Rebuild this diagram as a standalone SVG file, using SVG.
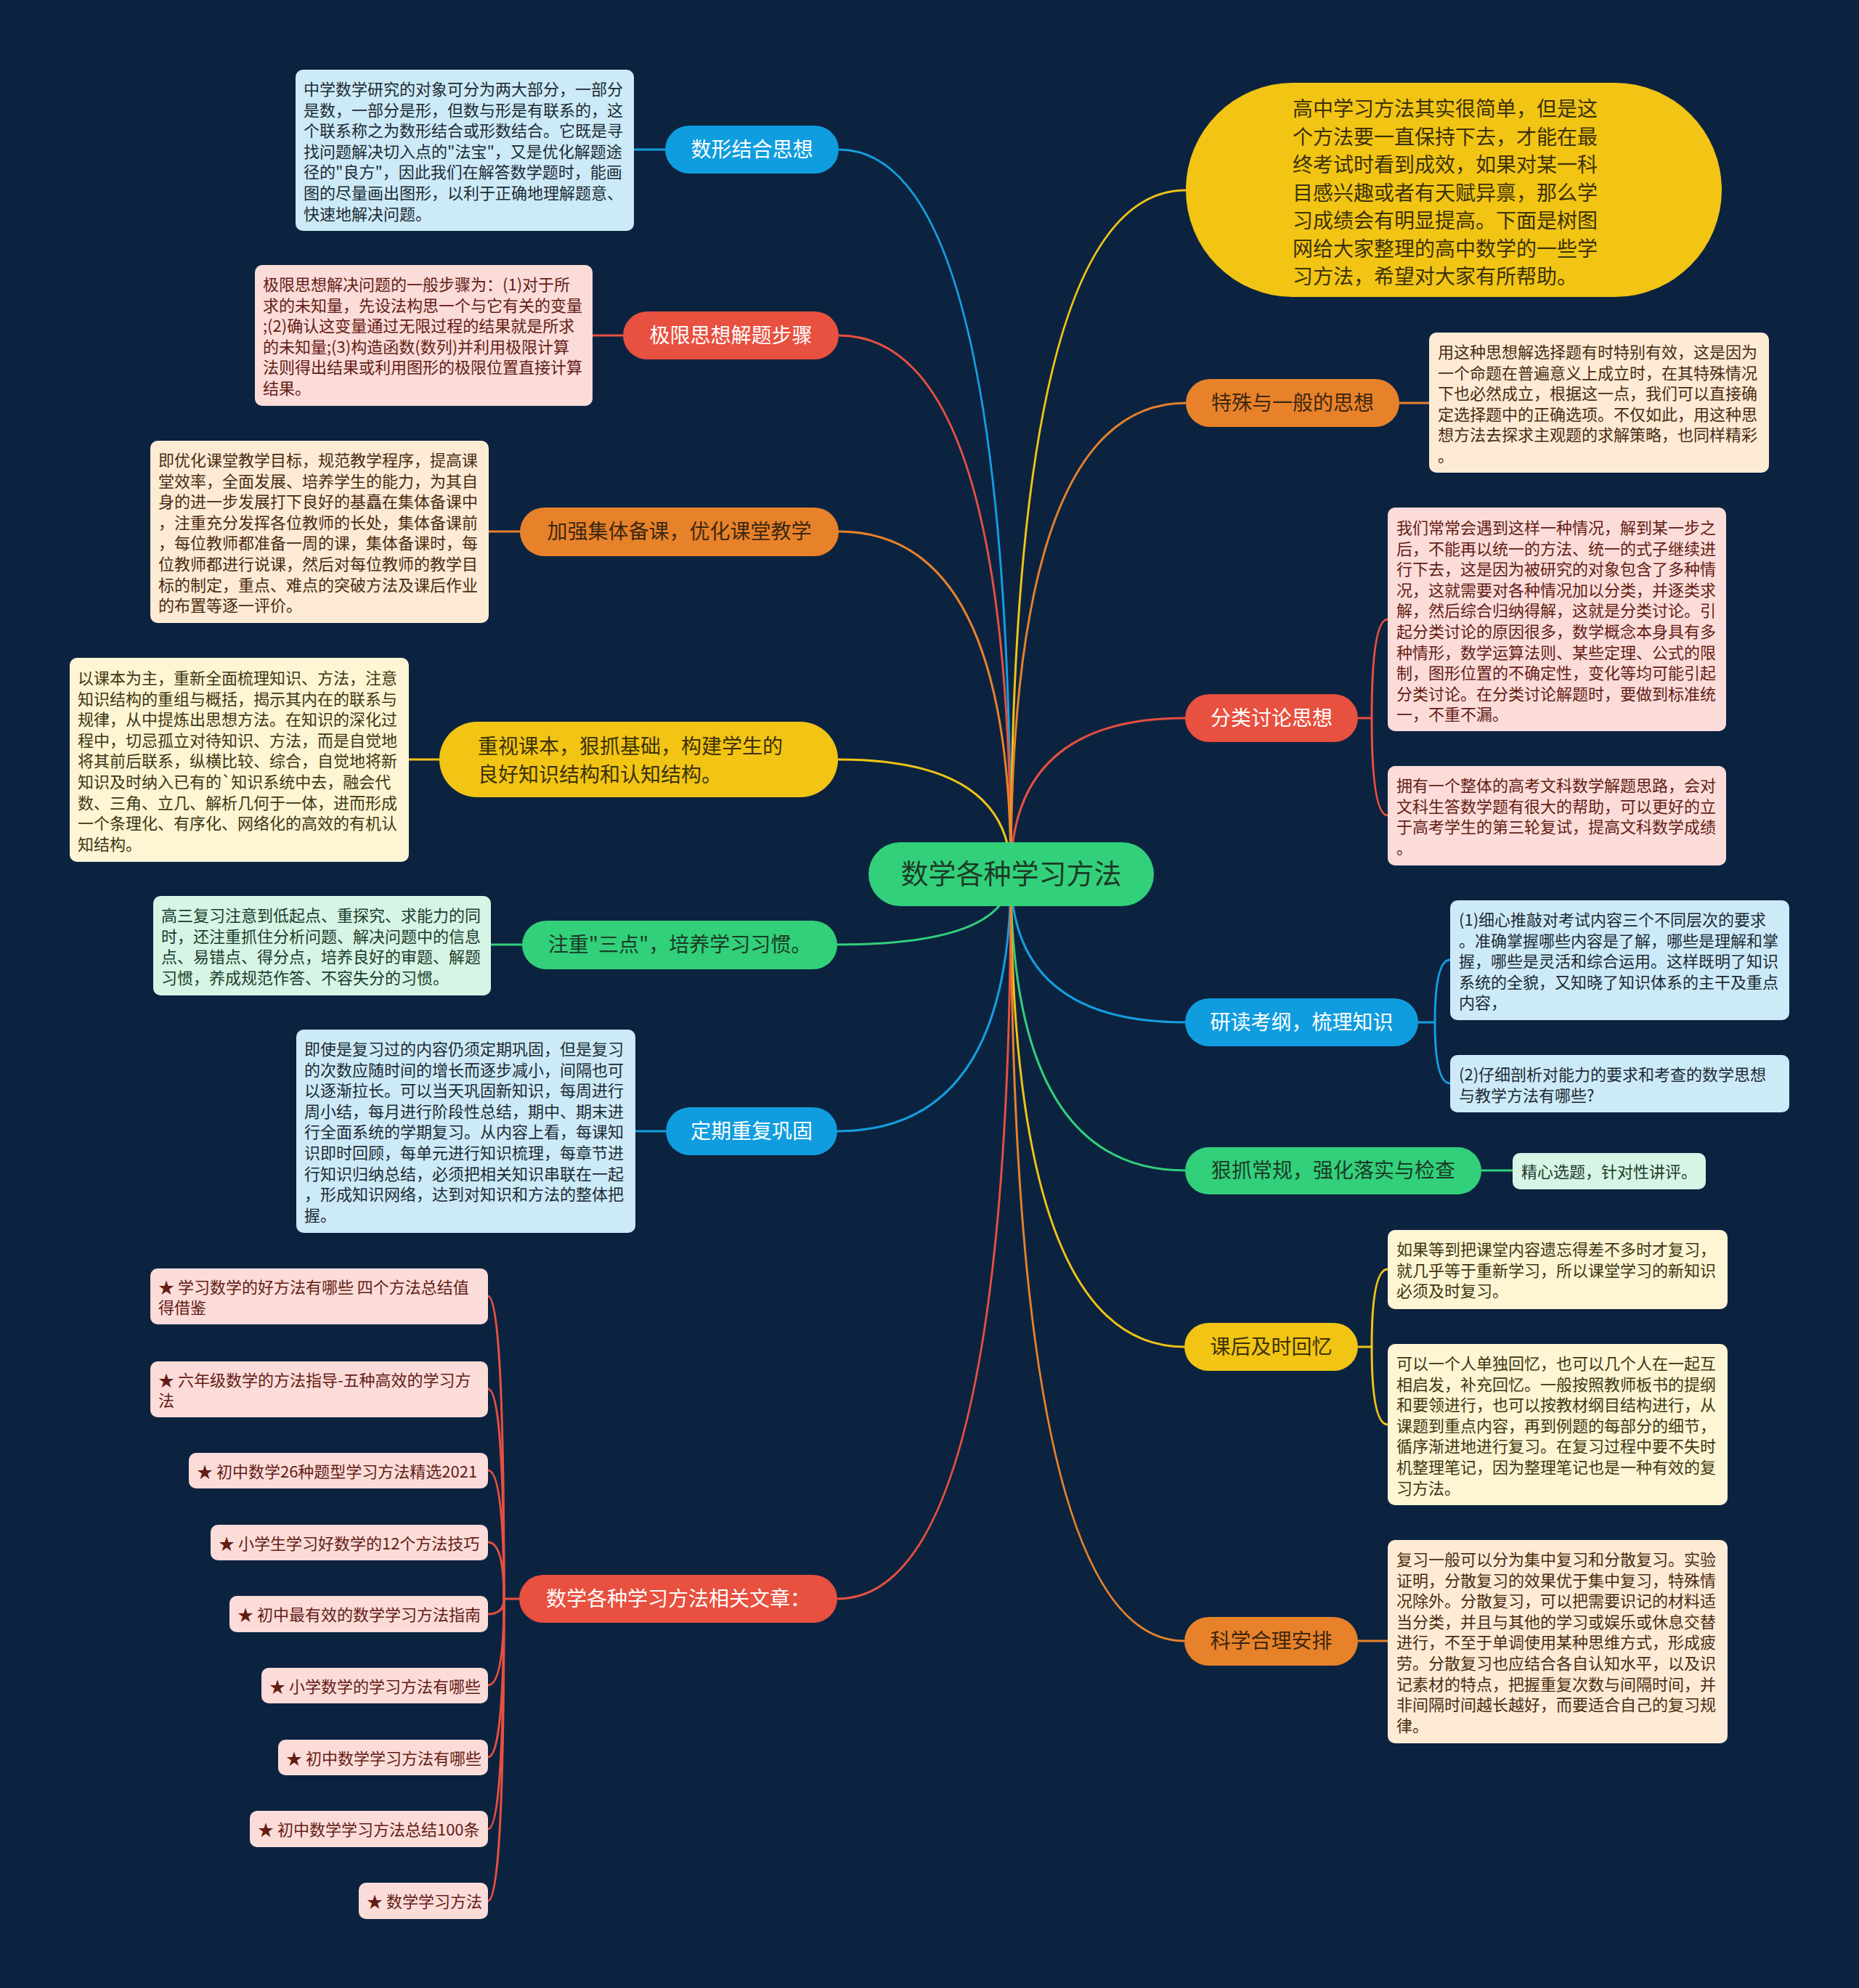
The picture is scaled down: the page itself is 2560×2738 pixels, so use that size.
<svg xmlns="http://www.w3.org/2000/svg" width="2560" height="2738" viewBox="0 0 2560 2738">
<defs>
<style>
text{font-family:"Noto Sans CJK SC","Noto Sans",sans-serif;}
.bg{fill:#0c2340;}
.e{fill:none;stroke-width:3;}
.eb{stroke:#139fe0;} .er{stroke:#e8503f;} .eo{stroke:#e8822a;} .ey{stroke:#f2c414;} .eg{stroke:#32d07a;}
.nb{fill:#109ddf;} .nr{fill:#e8503f;} .no{fill:#e8822a;} .ny{fill:#f2c414;} .ng{fill:#32d07a;}
.tw{fill:#ffffff;font-size:28px;text-anchor:middle;}
.to{fill:#3d2710;font-size:28px;text-anchor:middle;}
.ty{fill:#3b3208;font-size:28px;text-anchor:middle;}
.tys{fill:#3b3208;font-size:28px;text-anchor:start;}
.tg{fill:#1b3b27;font-size:28px;text-anchor:middle;}
.bb{fill:#cdeaf8;} .br{fill:#fbdcd9;} .bo{fill:#fdebd6;} .by{fill:#fdf5d4;} .bgr{fill:#d7f5e4;}
.xb{fill:#1c2a33;font-size:22px;} .xr{fill:#641c14;font-size:22px;} .xo{fill:#4a2b10;font-size:22px;} .xy{fill:#3e3611;font-size:22px;} .xg{fill:#1d3b2b;font-size:22px;}
</style>
</defs>
<rect class="bg" x="0" y="0" width="2560" height="2738"/>

<g id="connectors">
<path class="e eb" d="M1392,1204 Q1392,206 1155,206"/>
<path class="e er" d="M1392,1204 Q1392,462 1155,462"/>
<path class="e eo" d="M1392,1204 Q1392,732 1155,732"/>
<path class="e ey" d="M1392,1204 Q1392,1046 1154,1046"/>
<path class="e eg" d="M1392,1204 Q1392,1301 1153,1301"/>
<path class="e eb" d="M1392,1204 Q1392,1558 1153,1558"/>
<path class="e er" d="M1392,1204 Q1392,2202 1153,2202"/>
<path class="e ey" d="M1392,1204 Q1392,262 1633,262"/>
<path class="e eo" d="M1392,1204 Q1392,555 1633,555"/>
<path class="e er" d="M1392,1204 Q1392,989 1632,989"/>
<path class="e eb" d="M1392,1204 Q1392,1408 1632,1408"/>
<path class="e eg" d="M1392,1204 Q1392,1612 1632,1612"/>
<path class="e ey" d="M1392,1204 Q1392,1855 1631,1855"/>
<path class="e eo" d="M1392,1204 Q1392,2260 1631,2260"/>

<path class="e eb" d="M916,206 H873"/>
<path class="e er" d="M858,462 H816"/>
<path class="e eo" d="M716,732 H673"/>
<path class="e ey" d="M605,1046 H563"/>
<path class="e eg" d="M719,1301 H676"/>
<path class="e eb" d="M917,1558 H875"/>
<path class="e eo" d="M1927,555 H1968"/>
<path class="e eg" d="M2040,1612 H2083"/>
<path class="e eo" d="M1870,2260 H1911"/>

<path class="e er" d="M1870,989 H1889 Q1889,853 1911,853"/>
<path class="e er" d="M1889,989 Q1889,1123 1911,1123"/>
<path class="e eb" d="M1953,1408 H1976 Q1976,1322 1997,1322"/>
<path class="e eb" d="M1976,1408 Q1976,1492 1997,1492"/>
<path class="e ey" d="M1870,1855 H1889 Q1889,1748 1911,1748"/>
<path class="e ey" d="M1889,1855 Q1889,1962 1911,1962"/>

<path class="e er" d="M715,2202 H694 Q694,1785 672,1785"/>
<path class="e er" d="M694,2202 Q694,1913 672,1913"/>
<path class="e er" d="M694,2202 Q694,2025 672,2025"/>
<path class="e er" d="M694,2202 Q694,2124 672,2124"/>
<path class="e er" d="M694,2202 Q694,2223 672,2223"/>
<path class="e er" d="M694,2202 Q694,2321 672,2321"/>
<path class="e er" d="M694,2202 Q694,2420 672,2420"/>
<path class="e er" d="M694,2202 Q694,2519 672,2519"/>
<path class="e er" d="M694,2202 Q694,2618 672,2618"/>
</g>

<g id="n-center">
<rect x="1196" y="1160" width="393" height="88" rx="44" fill="#32d07a"/>
<text x="1392.5" y="1217" font-size="38" text-anchor="middle" fill="#1b3b27">数学各种学习方法</text>
</g>

<g id="n-shuxing">
<rect class="nb" x="916" y="173" width="239" height="66" rx="33"/>
<text class="tw" x="1035.5" y="216">数形结合思想</text>
</g>
<g id="d-shuxing">
<rect class="bb" x="407" y="96" width="466" height="222" rx="10"/>
<text class="xb" x="418" y="131"><tspan x="418">中学数学研究的对象可分为两大部分，一部分</tspan><tspan x="418" dy="28.6">是数，一部分是形，但数与形是有联系的，这</tspan><tspan x="418" dy="28.6">个联系称之为数形结合或形数结合。它既是寻</tspan><tspan x="418" dy="28.6">找问题解决切入点的"法宝"，又是优化解题途</tspan><tspan x="418" dy="28.6">径的"良方"，因此我们在解答数学题时，能画</tspan><tspan x="418" dy="28.6">图的尽量画出图形，以利于正确地理解题意、</tspan><tspan x="418" dy="28.6">快速地解决问题。</tspan></text>
</g>

<g id="n-jixian">
<rect class="nr" x="858" y="429" width="297" height="66" rx="33"/>
<text class="tw" x="1006.5" y="472">极限思想解题步骤</text>
</g>
<g id="d-jixian">
<rect class="br" x="351" y="365" width="465" height="194" rx="10"/>
<text class="xr" x="362" y="400"><tspan x="362">极限思想解决问题的一般步骤为：(1)对于所</tspan><tspan x="362" dy="28.6">求的未知量，先设法构思一个与它有关的变量</tspan><tspan x="362" dy="28.6">;(2)确认这变量通过无限过程的结果就是所求</tspan><tspan x="362" dy="28.6">的未知量;(3)构造函数(数列)并利用极限计算</tspan><tspan x="362" dy="28.6">法则得出结果或利用图形的极限位置直接计算</tspan><tspan x="362" dy="28.6">结果。</tspan></text>
</g>

<g id="n-jiaqiang">
<rect class="no" x="716" y="699" width="439" height="67" rx="33.5"/>
<text class="to" x="935.5" y="742">加强集体备课，优化课堂教学</text>
</g>
<g id="d-jiaqiang">
<rect class="bo" x="207" y="607" width="466" height="251" rx="10"/>
<text class="xo" x="218" y="642"><tspan x="218">即优化课堂教学目标，规范教学程序，提高课</tspan><tspan x="218" dy="28.6">堂效率，全面发展、培养学生的能力，为其自</tspan><tspan x="218" dy="28.6">身的进一步发展打下良好的基矗在集体备课中</tspan><tspan x="218" dy="28.6">，注重充分发挥各位教师的长处，集体备课前</tspan><tspan x="218" dy="28.6">，每位教师都准备一周的课，集体备课时，每</tspan><tspan x="218" dy="28.6">位教师都进行说课，然后对每位教师的教学目</tspan><tspan x="218" dy="28.6">标的制定，重点、难点的突破方法及课后作业</tspan><tspan x="218" dy="28.6">的布置等逐一评价。</tspan></text>
</g>

<g id="n-zhongshi">
<rect class="ny" x="605" y="994" width="549" height="104" rx="52"/>
<text class="tys" x="658" y="1038"><tspan x="658">重视课本，狠抓基础，构建学生的</tspan><tspan x="658" dy="39">良好知识结构和认知结构。</tspan></text>
</g>
<g id="d-zhongshi">
<rect class="by" x="96" y="906" width="467" height="281" rx="10"/>
<text class="xy" x="107" y="942"><tspan x="107">以课本为主，重新全面梳理知识、方法，注意</tspan><tspan x="107" dy="28.6">知识结构的重组与概括，揭示其内在的联系与</tspan><tspan x="107" dy="28.6">规律，从中提炼出思想方法。在知识的深化过</tspan><tspan x="107" dy="28.6">程中，切忌孤立对待知识、方法，而是自觉地</tspan><tspan x="107" dy="28.6">将其前后联系，纵横比较、综合，自觉地将新</tspan><tspan x="107" dy="28.6">知识及时纳入已有的`知识系统中去，融会代</tspan><tspan x="107" dy="28.6">数、三角、立几、解析几何于一体，进而形成</tspan><tspan x="107" dy="28.6">一个条理化、有序化、网络化的高效的有机认</tspan><tspan x="107" dy="28.6">知结构。</tspan></text>
</g>

<g id="n-zhuzhong">
<rect class="ng" x="719" y="1268" width="434" height="67" rx="33.5"/>
<text class="tg" x="936" y="1311">注重"三点"，培养学习习惯。</text>
</g>
<g id="d-zhuzhong">
<rect class="bgr" x="211" y="1234" width="465" height="137" rx="10"/>
<text class="xg" x="222" y="1269"><tspan x="222">高三复习注意到低起点、重探究、求能力的同</tspan><tspan x="222" dy="28.6">时，还注重抓住分析问题、解决问题中的信息</tspan><tspan x="222" dy="28.6">点、易错点、得分点，培养良好的审题、解题</tspan><tspan x="222" dy="28.6">习惯，养成规范作答、不容失分的习惯。</tspan></text>
</g>

<g id="n-dingqi">
<rect class="nb" x="917" y="1525" width="236" height="66" rx="33"/>
<text class="tw" x="1035" y="1568">定期重复巩固</text>
</g>
<g id="d-dingqi">
<rect class="bb" x="408" y="1418" width="467" height="280" rx="10"/>
<text class="xb" x="419" y="1453"><tspan x="419">即使是复习过的内容仍须定期巩固，但是复习</tspan><tspan x="419" dy="28.6">的次数应随时间的增长而逐步减小，间隔也可</tspan><tspan x="419" dy="28.6">以逐渐拉长。可以当天巩固新知识，每周进行</tspan><tspan x="419" dy="28.6">周小结，每月进行阶段性总结，期中、期末进</tspan><tspan x="419" dy="28.6">行全面系统的学期复习。从内容上看，每课知</tspan><tspan x="419" dy="28.6">识即时回顾，每单元进行知识梳理，每章节进</tspan><tspan x="419" dy="28.6">行知识归纳总结，必须把相关知识串联在一起</tspan><tspan x="419" dy="28.6">，形成知识网络，达到对知识和方法的整体把</tspan><tspan x="419" dy="28.6">握。</tspan></text>
</g>

<g id="n-wenzhang">
<rect class="nr" x="715" y="2169" width="438" height="66" rx="33"/>
<text class="tw" x="934" y="2212">数学各种学习方法相关文章：</text>
</g>
<g id="a1"><rect class="br" x="207" y="1747" width="465" height="77" rx="10"/><text class="xr" x="218" y="1781"><tspan x="218">★ 学习数学的好方法有哪些 四个方法总结值</tspan><tspan x="218" dy="28">得借鉴</tspan></text></g>
<g id="a2"><rect class="br" x="207" y="1875" width="465" height="77" rx="10"/><text class="xr" x="218" y="1909"><tspan x="218">★ 六年级数学的方法指导-五种高效的学习方</tspan><tspan x="218" dy="28">法</tspan></text></g>
<g id="a3"><rect class="br" x="260" y="2001" width="412" height="49" rx="10"/><text class="xr" x="271" y="2035">★ 初中数学26种题型学习方法精选2021</text></g>
<g id="a4"><rect class="br" x="290" y="2100" width="382" height="49" rx="10"/><text class="xr" x="301" y="2134">★ 小学生学习好数学的12个方法技巧</text></g>
<g id="a5"><rect class="br" x="316" y="2198" width="356" height="50" rx="10"/><text class="xr" x="327" y="2232">★ 初中最有效的数学学习方法指南</text></g>
<g id="a6"><rect class="br" x="360" y="2297" width="312" height="49" rx="10"/><text class="xr" x="371" y="2331">★ 小学数学的学习方法有哪些</text></g>
<g id="a7"><rect class="br" x="383" y="2396" width="289" height="49" rx="10"/><text class="xr" x="394" y="2430">★ 初中数学学习方法有哪些</text></g>
<g id="a8"><rect class="br" x="344" y="2494" width="328" height="50" rx="10"/><text class="xr" x="355" y="2528">★ 初中数学学习方法总结100条</text></g>
<g id="a9"><rect class="br" x="494" y="2593" width="178" height="50" rx="10"/><text class="xr" x="505" y="2627">★ 数学学习方法</text></g>

<g id="n-intro">
<rect class="ny" x="1633" y="114" width="738" height="295" rx="147.5"/>
<text class="tys" x="1780" y="160"><tspan x="1780">高中学习方法其实很简单，但是这</tspan><tspan x="1780" dy="38.5">个方法要一直保持下去，才能在最</tspan><tspan x="1780" dy="38.5">终考试时看到成效，如果对某一科</tspan><tspan x="1780" dy="38.5">目感兴趣或者有天赋异禀，那么学</tspan><tspan x="1780" dy="38.5">习成绩会有明显提高。下面是树图</tspan><tspan x="1780" dy="38.5">网给大家整理的高中数学的一些学</tspan><tspan x="1780" dy="38.5">习方法，希望对大家有所帮助。</tspan></text>
</g>

<g id="n-teshu">
<rect class="no" x="1633" y="522" width="294" height="66" rx="33"/>
<text class="to" x="1780" y="565">特殊与一般的思想</text>
</g>
<g id="d-teshu">
<rect class="bo" x="1968" y="458" width="468" height="193" rx="10"/>
<text class="xo" x="1980" y="493"><tspan x="1980">用这种思想解选择题有时特别有效，这是因为</tspan><tspan x="1980" dy="28.6">一个命题在普遍意义上成立时，在其特殊情况</tspan><tspan x="1980" dy="28.6">下也必然成立，根据这一点，我们可以直接确</tspan><tspan x="1980" dy="28.6">定选择题中的正确选项。不仅如此，用这种思</tspan><tspan x="1980" dy="28.6">想方法去探求主观题的求解策略，也同样精彩</tspan><tspan x="1980" dy="28.6">。</tspan></text>
</g>

<g id="n-fenlei">
<rect class="nr" x="1632" y="956" width="238" height="66" rx="33"/>
<text class="tw" x="1751" y="999">分类讨论思想</text>
</g>
<g id="d-fenlei1">
<rect class="br" x="1911" y="699" width="466" height="308" rx="10"/>
<text class="xr" x="1923" y="735"><tspan x="1923">我们常常会遇到这样一种情况，解到某一步之</tspan><tspan x="1923" dy="28.6">后，不能再以统一的方法、统一的式子继续进</tspan><tspan x="1923" dy="28.6">行下去，这是因为被研究的对象包含了多种情</tspan><tspan x="1923" dy="28.6">况，这就需要对各种情况加以分类，并逐类求</tspan><tspan x="1923" dy="28.6">解，然后综合归纳得解，这就是分类讨论。引</tspan><tspan x="1923" dy="28.6">起分类讨论的原因很多，数学概念本身具有多</tspan><tspan x="1923" dy="28.6">种情形，数学运算法则、某些定理、公式的限</tspan><tspan x="1923" dy="28.6">制，图形位置的不确定性，变化等均可能引起</tspan><tspan x="1923" dy="28.6">分类讨论。在分类讨论解题时，要做到标准统</tspan><tspan x="1923" dy="28.6">一，不重不漏。</tspan></text>
</g>
<g id="d-fenlei2">
<rect class="br" x="1911" y="1055" width="466" height="137" rx="10"/>
<text class="xr" x="1923" y="1090"><tspan x="1923">拥有一个整体的高考文科数学解题思路，会对</tspan><tspan x="1923" dy="28.6">文科生答数学题有很大的帮助，可以更好的立</tspan><tspan x="1923" dy="28.6">于高考学生的第三轮复试，提高文科数学成绩</tspan><tspan x="1923" dy="28.6">。</tspan></text>
</g>

<g id="n-yandu">
<rect class="nb" x="1632" y="1375" width="321" height="66" rx="33"/>
<text class="tw" x="1792.5" y="1418">研读考纲，梳理知识</text>
</g>
<g id="d-yandu1">
<rect class="bb" x="1997" y="1240" width="467" height="165" rx="10"/>
<text class="xb" x="2009" y="1275"><tspan x="2009">(1)细心推敲对考试内容三个不同层次的要求</tspan><tspan x="2009" dy="28.6">。准确掌握哪些内容是了解，哪些是理解和掌</tspan><tspan x="2009" dy="28.6">握，哪些是灵活和综合运用。这样既明了知识</tspan><tspan x="2009" dy="28.6">系统的全貌，又知晓了知识体系的主干及重点</tspan><tspan x="2009" dy="28.6">内容，</tspan></text>
</g>
<g id="d-yandu2">
<rect class="bb" x="1997" y="1453" width="467" height="79" rx="10"/>
<text class="xb" x="2009" y="1488"><tspan x="2009">(2)仔细剖析对能力的要求和考查的数学思想</tspan><tspan x="2009" dy="28.6">与教学方法有哪些?</tspan></text>
</g>

<g id="n-henzhua">
<rect class="ng" x="1632" y="1580" width="408" height="65" rx="32.5"/>
<text class="tg" x="1836" y="1622">狠抓常规，强化落实与检查</text>
</g>
<g id="d-henzhua">
<rect class="bgr" x="2083" y="1588" width="266" height="50" rx="10"/>
<text class="xg" x="2095" y="1622">精心选题，针对性讲评。</text>
</g>

<g id="n-kehou">
<rect class="ny" x="1631" y="1822" width="239" height="66" rx="33"/>
<text class="ty" x="1750.5" y="1865">课后及时回忆</text>
</g>
<g id="d-kehou1">
<rect class="by" x="1911" y="1694" width="468" height="109" rx="10"/>
<text class="xy" x="1923" y="1729"><tspan x="1923">如果等到把课堂内容遗忘得差不多时才复习，</tspan><tspan x="1923" dy="28.6">就几乎等于重新学习，所以课堂学习的新知识</tspan><tspan x="1923" dy="28.6">必须及时复习。</tspan></text>
</g>
<g id="d-kehou2">
<rect class="by" x="1911" y="1851" width="468" height="222" rx="10"/>
<text class="xy" x="1923" y="1886"><tspan x="1923">可以一个人单独回忆，也可以几个人在一起互</tspan><tspan x="1923" dy="28.6">相启发，补充回忆。一般按照教师板书的提纲</tspan><tspan x="1923" dy="28.6">和要领进行，也可以按教材纲目结构进行，从</tspan><tspan x="1923" dy="28.6">课题到重点内容，再到例题的每部分的细节，</tspan><tspan x="1923" dy="28.6">循序渐进地进行复习。在复习过程中要不失时</tspan><tspan x="1923" dy="28.6">机整理笔记，因为整理笔记也是一种有效的复</tspan><tspan x="1923" dy="28.6">习方法。</tspan></text>
</g>

<g id="n-kexue">
<rect class="no" x="1631" y="2227" width="239" height="67" rx="33.5"/>
<text class="to" x="1750.5" y="2270">科学合理安排</text>
</g>
<g id="d-kexue">
<rect class="bo" x="1911" y="2121" width="468" height="280" rx="10"/>
<text class="xo" x="1923" y="2156"><tspan x="1923">复习一般可以分为集中复习和分散复习。实验</tspan><tspan x="1923" dy="28.6">证明，分散复习的效果优于集中复习，特殊情</tspan><tspan x="1923" dy="28.6">况除外。分散复习，可以把需要识记的材料适</tspan><tspan x="1923" dy="28.6">当分类，并且与其他的学习或娱乐或休息交替</tspan><tspan x="1923" dy="28.6">进行，不至于单调使用某种思维方式，形成疲</tspan><tspan x="1923" dy="28.6">劳。分散复习也应结合各自认知水平，以及识</tspan><tspan x="1923" dy="28.6">记素材的特点，把握重复次数与间隔时间，并</tspan><tspan x="1923" dy="28.6">非间隔时间越长越好，而要适合自己的复习规</tspan><tspan x="1923" dy="28.6">律。</tspan></text>
</g>
</svg>
